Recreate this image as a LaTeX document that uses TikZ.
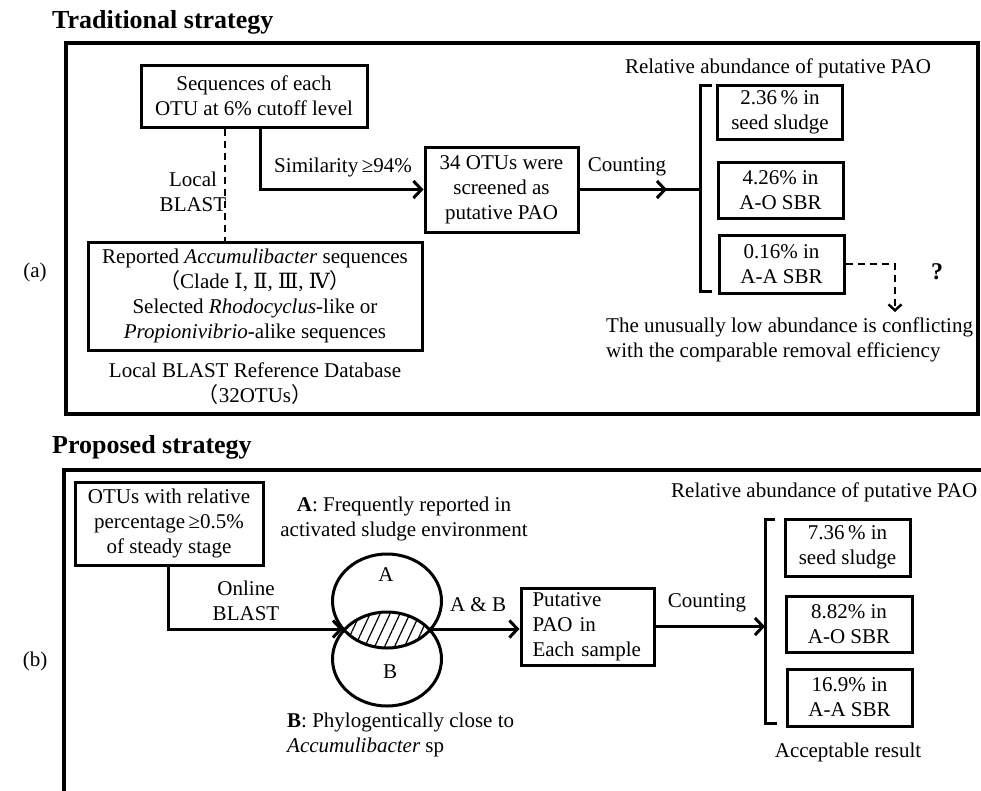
\documentclass[tikz,border=0pt]{standalone}
\usepackage{fontspec}
\setmainfont{Liberation Serif}
\newfontfamily\cjkfont{Noto Sans CJK SC}
\newfontfamily\numfont{DejaVu Serif}
\usetikzlibrary{arrows.meta,positioning,patterns.meta}

\begin{document}
\begin{tikzpicture}[x=1pt,y=-1pt,
  font=\fontsize{21}{25}\selectfont,
  box/.style={draw,line width=3pt,align=center,inner sep=0pt},
  txt/.style={inner sep=0pt,align=center},
  frame/.style={line width=3.6pt},
  flow/.style={line width=3pt,-{Straight Barb[length=8pt,width=17pt]}},
  dashflow/.style={line width=2.4pt,dash pattern=on 7pt off 5pt,-{Straight Barb[length=6pt,width=13pt]}},
  heading/.style={inner sep=0pt,anchor=west,font=\fontsize{26}{30}\selectfont\bfseries}]
  \useasboundingbox (0,0) rectangle (981,790);

  % Traditional strategy
  \node[heading] (titleA) at (52,22) {Traditional strategy};
  \draw[frame] (66,43) rectangle (978,414);
  \node[txt] (labA) at (35,272) {(a)};
  \node[box,minimum width=226pt,minimum height=62pt] (seqs) at (254,96) {Sequences of each\\OTU at 6\% cutoff level};
  \node[box,minimum width=334pt,minimum height=108pt] (refdb) at (255,296)
    {Reported \textit{Accumulibacter} sequences\\
     {\cjkfont （}Clade {\numfont Ⅰ}, {\numfont Ⅱ}, {\numfont Ⅲ}, {\numfont Ⅳ}{\cjkfont ）}\\
     Selected \textit{Rhodocyclus}-like or\\
     \textit{Propionivibrio}-alike sequences};
  \node[txt] (dbname) at (255,384) {Local BLAST Reference Database\\{\cjkfont （}32OTUs{\cjkfont ）}};
  \node[box,minimum width=153pt,minimum height=85pt] (screen) at (501.5,189.5) {34 OTUs were\\screened as\\putative PAO};
  % Local BLAST link
  \coordinate (dashtop) at ([xshift=-29pt]seqs.south);
  \draw[line width=2.4pt,dash pattern=on 7pt off 5pt] (dashtop) -- (dashtop |- refdb.north);
  \node[txt] (localblast) at (193,192) {Local\\BLAST};
  % Similarity arrow
  \draw[flow] ([xshift=6pt]seqs.south) |- (screen.west);
  \node[txt] (simlab) at (343,167) {Similarity\,≥94\%};
  % Counting
  \coordinate (braA) at (700,189.5);
  \draw[flow] (screen.east) -- ([xshift=-33pt]braA);
  \draw[line width=3pt] ([xshift=-40pt]braA) -- (braA);
  \node[txt] (cntA) at (627,167) {Counting};
  \draw[line width=3pt] (712,85) -- (700,85) -- (700,291) -- (712,291);
  \node[txt] (relA) at (778,68) {Relative abundance of putative PAO};
  \node[box,minimum width=125pt,minimum height=54pt] (seedA) at (780,112) {2.36\,\% in\\seed sludge};
  \node[box,minimum width=125pt,minimum height=56pt] (aoA) at (780.5,190) {4.26\% in\\A-O SBR};
  \node[box,minimum width=125pt,minimum height=58pt] (aaA) at (781.5,264) {0.16\% in\\A-A SBR};
  % Conflict
  \coordinate (qarrow) at (895,312);
  \draw[dashflow] (aaA.east) -| (qarrow);
  \node[txt,font=\fontsize{24}{28}\selectfont\bfseries] (qmark) at (937,272) {?};
  \node[txt,anchor=west,align=left] (conflict) at (606,340) {The unusually low abundance is conflicting\\with the comparable removal efficiency};

  % Proposed strategy
  \node[heading] (titleB) at (52,447) {Proposed strategy};
  \draw[frame] (983,470) -- (64,470) -- (64,792);
  \node[txt] (labB) at (35,661) {(b)};
  \node[box,minimum width=188pt,minimum height=83pt] (otus) at (169,523.5) {OTUs with relative\\percentage\,≥0.5\%\\of steady stage};
  \node[txt] (adesc) at (404,519) {\textbf{A}: Frequently reported in\\activated sludge environment};
  % Venn
  \begin{scope}
    \clip (387,601) ellipse [x radius=54.5pt, y radius=47pt];
    \fill[pattern={Lines[angle=65,distance=9pt,line width=1.2pt]}] (387,659) ellipse [x radius=54.5pt, y radius=47pt];
  \end{scope}
  \draw[line width=3pt] (387,601) ellipse [x radius=54.5pt, y radius=47pt];
  \draw[line width=3pt] (387,659) ellipse [x radius=54.5pt, y radius=47pt];
  \node[txt] (setA) at (386,575) {A};
  \node[txt] (setB) at (390,672) {B};
  \coordinate (lensL) at (343,629);
  \coordinate (lensR) at (431,629);
  \draw[flow] ([xshift=-1pt]otus.south) |- (lensL);
  \node[txt] (online) at (246,601) {Online\\BLAST};
  \node[txt,anchor=west,align=left] (bdesc) at (287,735) {\textbf{B}: Phylogentically close to\\\textit{Accumulibacter} sp};
  \node[box,align=left,text width=110pt,inner xsep=11.5pt,minimum height=77pt] (putpao) at (587.5,626.5) {Putative\\PAO in\\Each sample};
  \draw[flow] (lensR) -- (lensR -| putpao.west);
  \node[txt] (ablab) at (478,605) {A \& B};
  % Counting
  \coordinate (braB) at (765,626.5);
  \draw[flow] (putpao.east) -- (braB);
  \node[txt] (cntB) at (707,603) {Counting};
  \draw[line width=3pt] (775,519) -- (765,519) -- (765,723) -- (777,723);
  \node[txt,anchor=west] (relB) at (671,492) {Relative abundance of putative PAO};
  \node[box,minimum width=125pt,minimum height=57pt] (seedB) at (847.5,547.5) {7.36\,\% in\\seed sludge};
  \node[box,minimum width=126pt,minimum height=56pt] (aoB) at (849,624) {8.82\% in\\A-O SBR};
  \node[box,minimum width=125pt,minimum height=57pt] (aaB) at (849.5,697.5) {16.9\% in\\A-A SBR};
  \node[txt] (accept) at (848,752) {Acceptable result};
\end{tikzpicture}
\end{document}
